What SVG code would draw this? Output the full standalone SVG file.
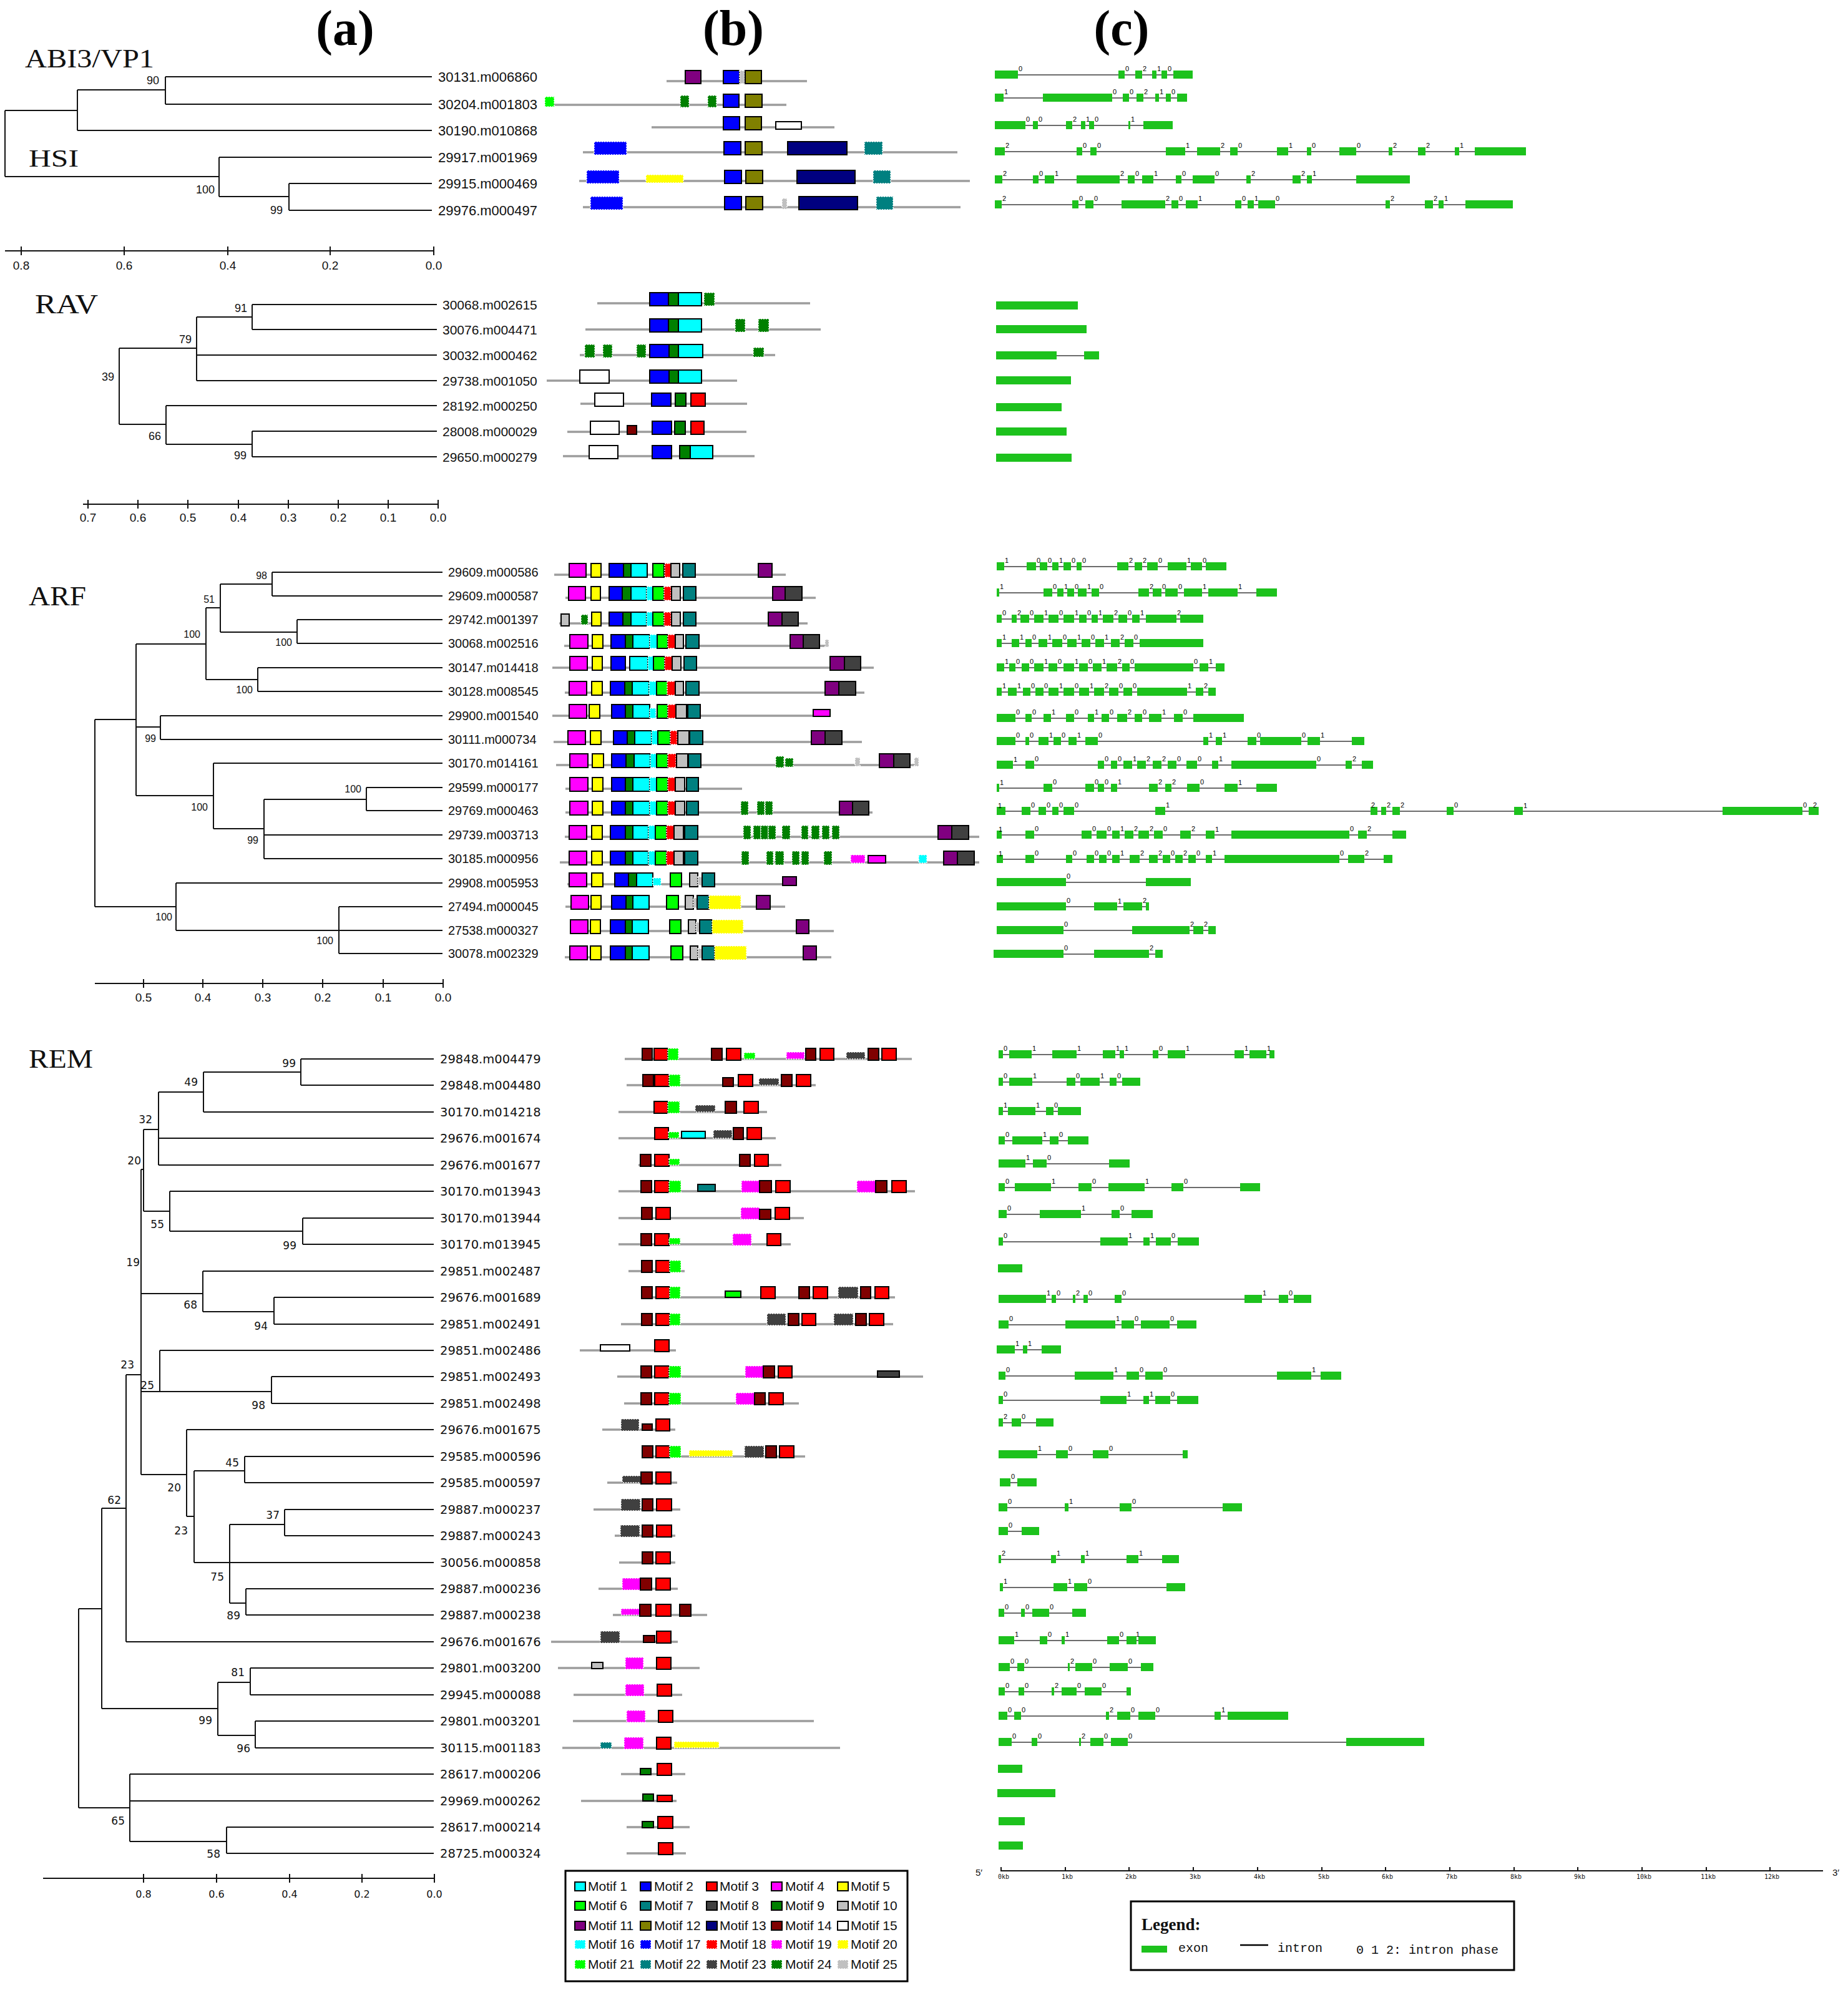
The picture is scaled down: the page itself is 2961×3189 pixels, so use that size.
<svg xmlns="http://www.w3.org/2000/svg" width="2961" height="3189" viewBox="0 0 2961 3189">
<style>
.t{font-family:"Liberation Sans",Arial,sans-serif;fill:#111}
.dj{font-family:"DejaVu Sans",Verdana,sans-serif;fill:#111}
.ser{font-family:"Liberation Serif","Times New Roman",serif;fill:#111}
.hd{font-family:"Liberation Serif","Times New Roman",serif;font-weight:bold;font-size:80px;text-anchor:middle;fill:#000}
.l22{font-size:22px}.l21{font-size:21px}.l20{font-size:20px}.l19{font-size:19.5px}
.bs{font-size:18px;text-anchor:end}.bs2{font-size:16px;text-anchor:end}.bs3{font-size:17px;text-anchor:end}
.sc{font-size:19px;text-anchor:middle}
.tr{fill:none;stroke:#111;stroke-width:2}
.ln{stroke:#9c9c9c;stroke-width:3.5}
.s{stroke:#000;stroke-width:2}
.d{stroke:#fff;stroke-width:1.5;stroke-dasharray:2 2}
.m1,.m16{fill:#00ffff}.m2,.m17{fill:#0000ff}.m3,.m18{fill:#ff0000}.m4,.m19{fill:#ff00ff}.m5,.m20{fill:#ffff00}
.m6,.m21{fill:#00ff00}.m7,.m22{fill:#008080}.m8,.m23{fill:#404040}.m9,.m24{fill:#008000}.m10,.m25{fill:#c0c0c0}
.m11{fill:#800080}.m12{fill:#808000}.m13{fill:#000080}.m14{fill:#800000}.m15{fill:#ffffff}
.ex{fill:#1dc21d}
.in{stroke:#3a3a3a;stroke-width:1.6}
.ph{font-family:"Liberation Sans",Arial,sans-serif;font-size:11px;fill:#000}
.ax{stroke:#111;stroke-width:2;fill:none}
.kb{font-family:"DejaVu Sans Mono","Liberation Mono",monospace;font-size:10px;text-anchor:middle;fill:#111}
.lg{font-family:"Liberation Sans",Arial,sans-serif;font-size:21px;fill:#111}
.mono{font-family:"Liberation Mono","Courier New",monospace;font-size:20px;fill:#111}
</style>
<rect width="2961" height="3189" fill="#fff"/>

<g id="headers">
<text class="hd" x="553" y="72">(a)</text>
<text class="hd" x="1175" y="72">(b)</text>
<text class="hd" x="1797" y="72">(c)</text>
</g>

<!-- ============ ABI3/VP1 + HSI ============ -->
<g id="tree-abi3">
<text class="ser" x="40" y="108" font-size="42" textLength="207" lengthAdjust="spacingAndGlyphs">ABI3/VP1</text>
<text class="ser" x="46" y="267" font-size="40" textLength="80" lengthAdjust="spacingAndGlyphs">HSI</text>
<g id="connectors-abi3">
<path class="tr" d="M8,177V283M8,177H124M124,144V209M124,144H265M265,123V167M265,123H692M265,167H692M124,209H692M8,283H351M351,252V315M351,252H692M351,315H463M463,294V337M463,294H692M463,337H692"/>
</g>
<g class="t bs"><text x="255" y="135">90</text><text x="344" y="310">100</text><text x="453" y="343">99</text></g>
<g class="t l22">
<text x="702" y="131">30131.m006860</text><text x="702" y="175">30204.m001803</text><text x="702" y="217">30190.m010868</text>
<text x="702" y="260">29917.m001969</text><text x="702" y="302">29915.m000469</text><text x="702" y="345">29976.m000497</text>
</g>
<g id="scale-abi3">
<path class="ax" d="M8,402H695M34,395V409M199,395V409M365,395V409M529,395V409M695,395V409"/>
<g class="t sc"><text x="34" y="432">0.8</text><text x="199" y="432">0.6</text><text x="365" y="432">0.4</text><text x="529" y="432">0.2</text><text x="695" y="432">0.0</text></g>
</g>
</g>

<g id="motifs-abi3">
<g id="b-30131" transform="translate(0,130)"><line class="ln" x1="1068" x2="1293"/><rect class="s m11" x="1098" y="-17" width="25" height="21"/><rect class="s m2" x="1159" y="-17" width="26" height="21"/><rect class="d m25" x="1185" y="-17" width="8" height="21"/><rect class="s m12" x="1194" y="-17" width="26" height="21"/></g>
<g id="b-30204" transform="translate(0,168)"><line class="ln" x1="881" x2="1260"/><rect class="d m21" x="873" y="-13" width="15" height="16"/><rect class="d m24" x="1090" y="-15" width="14" height="19"/><rect class="d m24" x="1134" y="-15" width="14" height="19"/><rect class="s m2" x="1159" y="-17" width="25" height="21"/><rect class="s m12" x="1194" y="-17" width="27" height="21"/></g>
<g id="b-30190" transform="translate(0,204)"><line class="ln" x1="1044" x2="1337"/><rect class="s m2" x="1159" y="-17" width="26" height="21"/><rect class="s m12" x="1194" y="-17" width="26" height="21"/><rect class="s m15" x="1243" y="-9" width="41" height="12"/></g>
<g id="b-29917" transform="translate(0,244)"><line class="ln" x1="934" x2="1534"/><rect class="d m17" x="952" y="-17" width="52" height="21"/><rect class="s m2" x="1160" y="-17" width="27" height="21"/><rect class="s m12" x="1194" y="-17" width="27" height="21"/><rect class="s m13" x="1262" y="-17" width="95" height="21"/><rect class="d m22" x="1385" y="-17" width="29" height="21"/></g>
<g id="b-29915" transform="translate(0,290)"><line class="ln" x1="928" x2="1554"/><rect class="d m17" x="940" y="-17" width="52" height="21"/><rect class="d m20" x="1035" y="-10" width="60" height="13"/><rect class="s m2" x="1161" y="-17" width="27" height="21"/><rect class="s m12" x="1195" y="-17" width="27" height="21"/><rect class="s m13" x="1277" y="-17" width="93" height="21"/><rect class="d m22" x="1399" y="-17" width="28" height="21"/></g>
<g id="b-29976" transform="translate(0,332)"><line class="ln" x1="934" x2="1539"/><rect class="d m17" x="946" y="-17" width="52" height="21"/><rect class="s m2" x="1161" y="-17" width="27" height="21"/><rect class="s m12" x="1195" y="-17" width="27" height="21"/><rect class="d m25" x="1253" y="-14" width="8" height="17"/><rect class="s m13" x="1280" y="-17" width="94" height="21"/><rect class="d m22" x="1404" y="-17" width="27" height="21"/></g>
</g>

<g id="genes-abi3">
<g id="c-30131" transform="translate(0,120)"><line class="in" x1="1594" x2="1911"/><path class="ex" d="M1594-7H1631v13H1594zM1792-7H1802v13H1792zM1819-7H1830v13H1819zM1846-7H1853v13H1846zM1861-7H1870v13H1861zM1880-7H1911v13H1880z"/><text class="ph" x="1632" y="-6">0</text><text class="ph" x="1803" y="-6">0</text><text class="ph" x="1831" y="-6">2</text><text class="ph" x="1854" y="-6">1</text><text class="ph" x="1871" y="-6">0</text></g>
<g id="c-30204" transform="translate(0,157)"><line class="in" x1="1594" x2="1902"/><path class="ex" d="M1594-7H1608v13H1594zM1671-7H1782v13H1671zM1799-7H1809v13H1799zM1821-7H1832v13H1821zM1851-7H1857v13H1851zM1868-7H1876v13H1868zM1886-7H1902v13H1886z"/><text class="ph" x="1609" y="-6">1</text><text class="ph" x="1783" y="-6">0</text><text class="ph" x="1810" y="-6">0</text><text class="ph" x="1833" y="-6">2</text><text class="ph" x="1858" y="-6">1</text><text class="ph" x="1877" y="-6">0</text></g>
<g id="c-30190" transform="translate(0,201)"><line class="in" x1="1594" x2="1879"/><path class="ex" d="M1594-7H1643v13H1594zM1655-7H1663v13H1655zM1708-7H1718v13H1708zM1732-7H1739v13H1732zM1745-7H1753v13H1745zM1808-7H1811v13H1808zM1832-7H1879v13H1832z"/><text class="ph" x="1644" y="-6">0</text><text class="ph" x="1664" y="-6">0</text><text class="ph" x="1719" y="-6">2</text><text class="ph" x="1740" y="-6">1</text><text class="ph" x="1754" y="-6">0</text><text class="ph" x="1812" y="-6">1</text></g>
<g id="c-29917" transform="translate(0,243)"><line class="in" x1="1594" x2="2445"/><path class="ex" d="M1594-7H1610v13H1594zM1725-7H1734v13H1725zM1747-7H1757v13H1747zM1868-7H1899v13H1868zM1918-7H1955v13H1918zM1971-7H1983v13H1971zM2046-7H2064v13H2046zM2094-7H2101v13H2094zM2146-7H2173v13H2146zM2225-7H2231v13H2225zM2272-7H2284v13H2272zM2331-7H2338v13H2331zM2363-7H2445v13H2363z"/><text class="ph" x="1611" y="-6">2</text><text class="ph" x="1735" y="-6">0</text><text class="ph" x="1758" y="-6">0</text><text class="ph" x="1900" y="-6">1</text><text class="ph" x="1956" y="-6">2</text><text class="ph" x="1984" y="-6">0</text><text class="ph" x="2065" y="-6">1</text><text class="ph" x="2102" y="-6">0</text><text class="ph" x="2174" y="-6">0</text><text class="ph" x="2232" y="-6">2</text><text class="ph" x="2285" y="-6">2</text><text class="ph" x="2339" y="-6">1</text></g>
<g id="c-29915" transform="translate(0,288)"><line class="in" x1="1594" x2="2259"/><path class="ex" d="M1594-7H1606v13H1594zM1655-7H1664v13H1655zM1674-7H1689v13H1674zM1725-7H1794v13H1725zM1807-7H1818v13H1807zM1830-7H1848v13H1830zM1884-7H1893v13H1884zM1911-7H1946v13H1911zM1997-7H2004v13H1997zM2071-7H2084v13H2071zM2094-7H2102v13H2094zM2173-7H2259v13H2173z"/><text class="ph" x="1607" y="-6">2</text><text class="ph" x="1665" y="-6">0</text><text class="ph" x="1690" y="-6">1</text><text class="ph" x="1795" y="-6">2</text><text class="ph" x="1819" y="-6">0</text><text class="ph" x="1849" y="-6">1</text><text class="ph" x="1894" y="-6">0</text><text class="ph" x="1947" y="-6">0</text><text class="ph" x="2005" y="-6">2</text><text class="ph" x="2085" y="-6">2</text><text class="ph" x="2103" y="-6">1</text></g>
<g id="c-29976" transform="translate(0,328)"><line class="in" x1="1594" x2="2424"/><path class="ex" d="M1594-7H1605v13H1594zM1718-7H1728v13H1718zM1739-7H1752v13H1739zM1797-7H1867v13H1797zM1877-7H1888v13H1877zM1900-7H1919v13H1900zM1979-7H1989v13H1979zM1999-7H2009v13H1999zM2016-7H2043v13H2016zM2220-7H2227v13H2220zM2283-7H2296v13H2283zM2305-7H2313v13H2305zM2348-7H2424v13H2348z"/><text class="ph" x="1606" y="-6">2</text><text class="ph" x="1729" y="-6">0</text><text class="ph" x="1753" y="-6">0</text><text class="ph" x="1868" y="-6">2</text><text class="ph" x="1889" y="-6">0</text><text class="ph" x="1920" y="-6">1</text><text class="ph" x="1990" y="-6">0</text><text class="ph" x="2010" y="-6">1</text><text class="ph" x="2044" y="-6">0</text><text class="ph" x="2228" y="-6">2</text><text class="ph" x="2297" y="-6">2</text><text class="ph" x="2314" y="-6">1</text></g>
</g>

<!-- ============ RAV ============ -->
<g id="tree-rav">
<text class="ser" x="56" y="502" font-size="44" textLength="101" lengthAdjust="spacingAndGlyphs">RAV</text>
<g id="connectors-rav">
<path class="tr" d="M191,558V680M191,558H315M315,508V610M315,508H404M404,488V528M404,488H700M404,528H700M315,569H700M315,610H700M191,680H266M266,650V712M266,650H700M266,712H404M404,691V732M404,691H700M404,732H700"/>
</g>
<g class="t bs"><text x="396" y="500">91</text><text x="307" y="550">79</text><text x="183" y="610">39</text><text x="258" y="705">66</text><text x="395" y="736">99</text></g>
<g class="t l21">
<text x="709" y="496">30068.m002615</text><text x="709" y="536">30076.m004471</text><text x="709" y="577">30032.m000462</text><text x="709" y="618">29738.m001050</text><text x="709" y="658">28192.m000250</text><text x="709" y="699">28008.m000029</text><text x="709" y="740">29650.m000279</text>
</g>
<g id="scale-rav">
<path class="ax" d="M133,808H702M141,801V815M221,801V815M301,801V815M382,801V815M462,801V815M542,801V815M622,801V815M702,801V815"/>
<g class="t sc"><text x="141" y="836">0.7</text><text x="221" y="836">0.6</text><text x="301" y="836">0.5</text><text x="382" y="836">0.4</text><text x="462" y="836">0.3</text><text x="542" y="836">0.2</text><text x="622" y="836">0.1</text><text x="702" y="836">0.0</text></g>
</g>
</g>

<g id="motifs-rav">
<g id="b-30068a" transform="translate(0,486)"><line class="ln" x1="957" x2="1298"/><rect class="s m2" x="1041" y="-17" width="30" height="21"/><rect class="s m9" x="1071" y="-17" width="16" height="21"/><rect class="s m1" x="1087" y="-17" width="37" height="21"/><rect class="d m24" x="1128" y="-17" width="17" height="21"/></g>
<g id="b-30076" transform="translate(0,528)"><line class="ln" x1="938" x2="1315"/><rect class="s m2" x="1041" y="-17" width="30" height="21"/><rect class="s m9" x="1071" y="-17" width="16" height="21"/><rect class="s m1" x="1087" y="-17" width="37" height="21"/><rect class="d m24" x="1178" y="-17" width="16" height="21"/><rect class="d m24" x="1215" y="-17" width="17" height="21"/></g>
<g id="b-30032" transform="translate(0,569)"><line class="ln" x1="929" x2="1242"/><rect class="d m24" x="937" y="-17" width="16" height="21"/><rect class="d m24" x="966" y="-17" width="15" height="21"/><rect class="d m24" x="1020" y="-17" width="15" height="21"/><rect class="s m2" x="1041" y="-17" width="31" height="21"/><rect class="s m9" x="1072" y="-17" width="15" height="21"/><rect class="s m1" x="1087" y="-17" width="39" height="21"/><rect class="d m24" x="1207" y="-12" width="17" height="15"/></g>
<g id="b-29738" transform="translate(0,610)"><line class="ln" x1="876" x2="1181"/><rect class="s m15" x="929" y="-17" width="47" height="21"/><rect class="s m2" x="1041" y="-17" width="31" height="21"/><rect class="s m9" x="1072" y="-17" width="15" height="21"/><rect class="s m1" x="1087" y="-17" width="37" height="21"/></g>
<g id="b-28192" transform="translate(0,647)"><line class="ln" x1="930" x2="1197"/><rect class="s m15" x="953" y="-17" width="46" height="21"/><rect class="s m2" x="1044" y="-17" width="31" height="21"/><rect class="s m9" x="1082" y="-17" width="17" height="21"/><rect class="s m3" x="1107" y="-17" width="23" height="21"/></g>
<g id="b-28008" transform="translate(0,692)"><line class="ln" x1="909" x2="1196"/><rect class="s m15" x="946" y="-17" width="46" height="21"/><rect class="s m14" x="1005" y="-10" width="15" height="14"/><rect class="s m2" x="1045" y="-17" width="31" height="21"/><rect class="s m9" x="1081" y="-17" width="17" height="21"/><rect class="s m3" x="1107" y="-17" width="21" height="21"/></g>
<g id="b-29650" transform="translate(0,731)"><line class="ln" x1="902" x2="1209"/><rect class="s m15" x="944" y="-17" width="46" height="21"/><rect class="s m2" x="1045" y="-17" width="31" height="21"/><rect class="s m9" x="1089" y="-17" width="17" height="21"/><rect class="s m1" x="1106" y="-17" width="36" height="21"/></g>
</g>

<g id="genes-rav">
<path class="ex" d="M1596,483H1727v13H1596zM1596,521H1741v13H1596zM1596,563H1693v13H1596zM1737,563H1761v13H1737zM1596,603H1716v13H1596zM1596,646H1701v13H1596zM1596,685H1709v13H1596zM1596,727H1717v13H1596z"/>
<line class="in" x1="1693" y1="570" x2="1737" y2="570"/>
</g>

<!-- ============ ARF ============ -->
<g id="tree-arf">
<text class="ser" x="46" y="970" font-size="44" textLength="92" lengthAdjust="spacingAndGlyphs">ARF</text>
<g id="connectors-arf">
<path class="tr" d="M152,1153V1453M152,1153H218M152,1453H282M218,1032V1275M218,1032H330M218,1165H257M218,1275H342M330,974V1089M330,974H353M330,1089H413M353,936V1013M353,936H436M353,1013H476M436,917V955M436,917H709M436,955H709M476,993V1031M476,993H709M476,1031H709M413,1070V1108M413,1070H709M413,1108H709M257,1147V1185M257,1147H709M257,1185H709M342,1223V1328M342,1223H709M342,1328H423M423,1281V1376M423,1281H587M423,1338H709M423,1376H709M587,1262V1299M587,1262H709M587,1299H709M282,1415V1491M282,1415H709M282,1491H709M543,1453V1528M543,1453H709M543,1528H709"/>
</g>
<g class="t bs2"><text x="428" y="928">98</text><text x="344" y="966">51</text><text x="321" y="1022">100</text><text x="468" y="1035">100</text><text x="405" y="1111">100</text><text x="250" y="1189">99</text><text x="579" y="1270">100</text><text x="333" y="1299">100</text><text x="414" y="1352">99</text><text x="276" y="1475">100</text><text x="534" y="1513">100</text></g>
<g class="t l20">
<text x="718" y="924">29609.m000586</text><text x="718" y="962">29609.m000587</text><text x="718" y="1000">29742.m001397</text><text x="718" y="1038">30068.m002516</text><text x="718" y="1077">30147.m014418</text><text x="718" y="1115">30128.m008545</text><text x="718" y="1154">29900.m001540</text><text x="718" y="1192">30111.m000734</text><text x="718" y="1230">30170.m014161</text><text x="718" y="1269">29599.m000177</text><text x="718" y="1306">29769.m000463</text><text x="718" y="1345">29739.m003713</text><text x="718" y="1383">30185.m000956</text><text x="718" y="1422">29908.m005953</text><text x="718" y="1460">27494.m000045</text><text x="718" y="1498">27538.m000327</text><text x="718" y="1535">30078.m002329</text>
</g>
<g id="scale-arf">
<path class="ax" d="M152,1576H710M230,1569V1583M325,1569V1583M421,1569V1583M517,1569V1583M614,1569V1583M710,1569V1583"/>
<g class="t sc"><text x="230" y="1605">0.5</text><text x="325" y="1605">0.4</text><text x="421" y="1605">0.3</text><text x="517" y="1605">0.2</text><text x="614" y="1605">0.1</text><text x="710" y="1605">0.0</text></g>
</g>
</g>

<g id="motifs-arf">
<g id="b-29609a" transform="translate(0,921)"><line class="ln" x1="888" x2="1259"/><rect class="s m4" x="912" y="-18" width="27" height="22"/><rect class="s m5" x="947" y="-18" width="16" height="22"/><rect class="s m2" x="976" y="-18" width="23" height="22"/><rect class="s m9" x="999" y="-18" width="12" height="22"/><rect class="s m1" x="1011" y="-18" width="26" height="22"/><rect class="s m6" x="1046" y="-18" width="18" height="22"/><rect class="d m18" x="1065" y="-18" width="10" height="22"/><rect class="s m10" x="1075" y="-18" width="14" height="22"/><rect class="s m7" x="1094" y="-18" width="20" height="22"/><rect class="s m11" x="1215" y="-18" width="22" height="22"/></g>
<g id="b-29609b" transform="translate(0,958)"><line class="ln" x1="906" x2="1307"/><rect class="s m4" x="911" y="-18" width="27" height="22"/><rect class="s m5" x="947" y="-18" width="15" height="22"/><rect class="s m2" x="976" y="-18" width="21" height="22"/><rect class="s m9" x="997" y="-18" width="14" height="22"/><rect class="s m1" x="1011" y="-18" width="25" height="22"/><rect class="d m16" x="1036" y="-18" width="10" height="22"/><rect class="s m6" x="1046" y="-18" width="18" height="22"/><rect class="d m18" x="1064" y="-18" width="11" height="22"/><rect class="s m10" x="1076" y="-18" width="14" height="22"/><rect class="s m7" x="1095" y="-18" width="20" height="22"/><rect class="s m11" x="1238" y="-18" width="20" height="22"/><rect class="s m8" x="1258" y="-18" width="27" height="22"/></g>
<g id="b-29742" transform="translate(0,999)"><line class="ln" x1="896" x2="1294"/><rect class="s m10" x="899" y="-15" width="13" height="19"/><rect class="d m24" x="931" y="-14" width="11" height="16"/><rect class="s m5" x="948" y="-18" width="15" height="22"/><rect class="s m2" x="976" y="-18" width="22" height="22"/><rect class="s m9" x="998" y="-18" width="13" height="22"/><rect class="s m1" x="1011" y="-18" width="25" height="22"/><rect class="d m16" x="1036" y="-18" width="10" height="22"/><rect class="s m6" x="1046" y="-18" width="18" height="22"/><rect class="d m18" x="1064" y="-18" width="11" height="22"/><rect class="s m10" x="1076" y="-18" width="14" height="22"/><rect class="s m7" x="1095" y="-18" width="20" height="22"/><rect class="s m11" x="1231" y="-18" width="22" height="22"/><rect class="s m8" x="1253" y="-18" width="26" height="22"/></g>
<g id="b-30068b" transform="translate(0,1035)"><line class="ln" x1="904" x2="1327"/><rect class="s m4" x="913" y="-18" width="29" height="22"/><rect class="s m5" x="949" y="-18" width="17" height="22"/><rect class="s m2" x="979" y="-18" width="23" height="22"/><rect class="s m9" x="1002" y="-18" width="12" height="22"/><rect class="s m1" x="1014" y="-18" width="27" height="22"/><rect class="d m16" x="1041" y="-18" width="12" height="22"/><rect class="s m6" x="1053" y="-18" width="17" height="22"/><rect class="d m18" x="1070" y="-18" width="12" height="22"/><rect class="s m10" x="1082" y="-18" width="13" height="22"/><rect class="s m7" x="1099" y="-18" width="21" height="22"/><rect class="s m11" x="1266" y="-18" width="21" height="22"/><rect class="s m8" x="1287" y="-18" width="26" height="22"/><rect class="d m25" x="1322" y="-10" width="6" height="12"/></g>
<g id="b-30147" transform="translate(0,1070)"><line class="ln" x1="885" x2="1400"/><rect class="s m4" x="913" y="-18" width="28" height="22"/><rect class="s m5" x="949" y="-18" width="16" height="22"/><rect class="s m2" x="979" y="-18" width="23" height="22"/><rect class="s m1" x="1009" y="-18" width="29" height="22"/><rect class="d m16" x="1038" y="-18" width="10" height="22"/><rect class="s m6" x="1047" y="-18" width="18" height="22"/><rect class="d m18" x="1065" y="-18" width="12" height="22"/><rect class="s m10" x="1077" y="-18" width="14" height="22"/><rect class="s m7" x="1096" y="-18" width="20" height="22"/><rect class="s m11" x="1330" y="-18" width="23" height="22"/><rect class="s m8" x="1353" y="-18" width="26" height="22"/></g>
<g id="b-30128" transform="translate(0,1110)"><line class="ln" x1="905" x2="1385"/><rect class="s m4" x="912" y="-18" width="28" height="22"/><rect class="s m5" x="948" y="-18" width="17" height="22"/><rect class="s m2" x="978" y="-18" width="23" height="22"/><rect class="s m9" x="1001" y="-18" width="12" height="22"/><rect class="s m1" x="1013" y="-18" width="27" height="22"/><rect class="d m16" x="1040" y="-18" width="12" height="22"/><rect class="s m6" x="1052" y="-18" width="18" height="22"/><rect class="d m18" x="1069" y="-18" width="13" height="22"/><rect class="s m10" x="1082" y="-18" width="13" height="22"/><rect class="s m7" x="1099" y="-18" width="21" height="22"/><rect class="s m11" x="1322" y="-18" width="22" height="22"/><rect class="s m8" x="1344" y="-18" width="27" height="22"/></g>
<g id="b-29900" transform="translate(0,1147)"><line class="ln" x1="885" x2="1302"/><rect class="s m4" x="912" y="-18" width="28" height="22"/><rect class="s m5" x="944" y="-18" width="17" height="22"/><rect class="s m2" x="980" y="-18" width="22" height="22"/><rect class="s m9" x="1002" y="-18" width="12" height="22"/><rect class="s m1" x="1014" y="-18" width="27" height="22"/><rect class="d m16" x="1041" y="-12" width="10" height="16"/><rect class="s m6" x="1053" y="-18" width="17" height="22"/><rect class="d m18" x="1070" y="-18" width="13" height="22"/><rect class="s m10" x="1083" y="-18" width="17" height="22"/><rect class="s m7" x="1102" y="-18" width="20" height="22"/><rect class="s m4" x="1303" y="-10" width="27" height="11"/></g>
<g id="b-30111" transform="translate(0,1189)"><line class="ln" x1="887" x2="1381"/><rect class="s m4" x="910" y="-18" width="28" height="22"/><rect class="s m5" x="946" y="-18" width="17" height="22"/><rect class="s m2" x="983" y="-18" width="22" height="22"/><rect class="s m9" x="1005" y="-18" width="12" height="22"/><rect class="s m1" x="1017" y="-18" width="27" height="22"/><rect class="d m16" x="1044" y="-18" width="10" height="22"/><rect class="s m6" x="1054" y="-18" width="20" height="22"/><rect class="d m18" x="1074" y="-18" width="11" height="22"/><rect class="s m10" x="1086" y="-18" width="18" height="22"/><rect class="s m7" x="1105" y="-18" width="21" height="22"/><rect class="s m11" x="1300" y="-18" width="22" height="22"/><rect class="s m8" x="1322" y="-18" width="27" height="22"/></g>
<g id="b-30170a" transform="translate(0,1226)"><line class="ln" x1="891" x2="1470"/><rect class="s m4" x="913" y="-18" width="29" height="22"/><rect class="s m5" x="949" y="-18" width="18" height="22"/><rect class="s m2" x="980" y="-18" width="23" height="22"/><rect class="s m9" x="1003" y="-18" width="13" height="22"/><rect class="s m1" x="1016" y="-18" width="26" height="22"/><rect class="d m16" x="1042" y="-18" width="10" height="22"/><rect class="s m6" x="1052" y="-18" width="18" height="22"/><rect class="d m18" x="1070" y="-18" width="13" height="22"/><rect class="s m10" x="1084" y="-18" width="18" height="22"/><rect class="s m7" x="1103" y="-18" width="20" height="22"/><rect class="d m24" x="1243" y="-14" width="13" height="18"/><rect class="d m24" x="1258" y="-11" width="13" height="14"/><rect class="d m25" x="1370" y="-12" width="8" height="14"/><rect class="s m11" x="1409" y="-18" width="23" height="22"/><rect class="s m8" x="1432" y="-18" width="26" height="22"/><rect class="d m25" x="1465" y="-12" width="7" height="14"/></g>
<g id="b-29599" transform="translate(0,1264)"><line class="ln" x1="906" x2="1189"/><rect class="s m4" x="913" y="-18" width="29" height="22"/><rect class="s m5" x="949" y="-18" width="17" height="22"/><rect class="s m2" x="980" y="-18" width="22" height="22"/><rect class="s m9" x="1002" y="-18" width="12" height="22"/><rect class="s m1" x="1014" y="-18" width="27" height="22"/><rect class="d m16" x="1041" y="-18" width="11" height="22"/><rect class="s m6" x="1052" y="-18" width="18" height="22"/><rect class="d m18" x="1070" y="-18" width="12" height="22"/><rect class="s m10" x="1082" y="-18" width="15" height="22"/><rect class="s m7" x="1100" y="-18" width="19" height="22"/></g>
<g id="b-29769" transform="translate(0,1302)"><line class="ln" x1="906" x2="1398"/><rect class="s m4" x="913" y="-18" width="29" height="22"/><rect class="s m5" x="949" y="-18" width="17" height="22"/><rect class="s m2" x="980" y="-18" width="22" height="22"/><rect class="s m9" x="1002" y="-18" width="12" height="22"/><rect class="s m1" x="1014" y="-18" width="27" height="22"/><rect class="d m16" x="1041" y="-18" width="11" height="22"/><rect class="s m6" x="1052" y="-18" width="18" height="22"/><rect class="d m18" x="1070" y="-18" width="12" height="22"/><rect class="s m10" x="1082" y="-18" width="15" height="22"/><rect class="s m7" x="1100" y="-18" width="19" height="22"/><rect class="d m24" x="1187" y="-18" width="12" height="22"/><rect class="d m24" x="1213" y="-18" width="12" height="22"/><rect class="d m24" x="1226" y="-18" width="12" height="22"/><rect class="s m11" x="1345" y="-18" width="21" height="22"/><rect class="s m8" x="1366" y="-18" width="26" height="22"/></g>
<g id="b-29739" transform="translate(0,1341)"><line class="ln" x1="905" x2="1569"/><rect class="s m4" x="912" y="-18" width="28" height="22"/><rect class="s m5" x="948" y="-18" width="17" height="22"/><rect class="s m2" x="978" y="-18" width="24" height="22"/><rect class="s m9" x="1002" y="-18" width="12" height="22"/><rect class="s m1" x="1014" y="-18" width="25" height="22"/><rect class="d m16" x="1039" y="-18" width="11" height="22"/><rect class="s m6" x="1050" y="-18" width="18" height="22"/><rect class="d m18" x="1068" y="-18" width="12" height="22"/><rect class="s m10" x="1080" y="-18" width="15" height="22"/><rect class="s m7" x="1097" y="-18" width="21" height="22"/><rect class="d m24" x="1191" y="-18" width="12" height="22"/><rect class="d m24" x="1207" y="-18" width="12" height="22"/><rect class="d m24" x="1219" y="-18" width="12" height="22"/><rect class="d m24" x="1231" y="-18" width="12" height="22"/><rect class="d m24" x="1253" y="-18" width="13" height="22"/><rect class="d m24" x="1284" y="-18" width="11" height="22"/><rect class="d m24" x="1300" y="-18" width="13" height="22"/><rect class="d m24" x="1317" y="-18" width="12" height="22"/><rect class="d m24" x="1333" y="-18" width="12" height="22"/><rect class="s m11" x="1503" y="-18" width="22" height="22"/><rect class="s m8" x="1525" y="-18" width="27" height="22"/></g>
<g id="b-30185" transform="translate(0,1382)"><line class="ln" x1="897" x2="1569"/><rect class="s m4" x="912" y="-18" width="28" height="22"/><rect class="s m5" x="948" y="-18" width="17" height="22"/><rect class="s m2" x="978" y="-18" width="24" height="22"/><rect class="s m9" x="1002" y="-18" width="12" height="22"/><rect class="s m1" x="1014" y="-18" width="25" height="22"/><rect class="d m16" x="1039" y="-18" width="11" height="22"/><rect class="s m6" x="1050" y="-18" width="18" height="22"/><rect class="d m18" x="1068" y="-18" width="12" height="22"/><rect class="s m10" x="1080" y="-18" width="15" height="22"/><rect class="s m7" x="1097" y="-18" width="21" height="22"/><rect class="d m24" x="1188" y="-18" width="12" height="22"/><rect class="d m24" x="1228" y="-18" width="11" height="22"/><rect class="d m24" x="1242" y="-18" width="14" height="22"/><rect class="d m24" x="1269" y="-18" width="12" height="22"/><rect class="d m24" x="1284" y="-18" width="12" height="22"/><rect class="d m24" x="1320" y="-18" width="13" height="22"/><rect class="d m19" x="1363" y="-12" width="23" height="13"/><rect class="s m4" x="1391" y="-11" width="28" height="12"/><rect class="d m16" x="1472" y="-12" width="13" height="13"/><rect class="s m11" x="1512" y="-18" width="22" height="22"/><rect class="s m8" x="1534" y="-18" width="27" height="22"/></g>
<g id="b-29908" transform="translate(0,1417)"><line class="ln" x1="909" x2="1276"/><rect class="s m4" x="912" y="-18" width="28" height="22"/><rect class="s m5" x="948" y="-18" width="18" height="22"/><rect class="s m2" x="985" y="-18" width="22" height="22"/><rect class="s m9" x="1007" y="-18" width="13" height="22"/><rect class="s m1" x="1020" y="-18" width="26" height="22"/><rect class="d m16" x="1046" y="-10" width="13" height="12"/><rect class="s m6" x="1074" y="-18" width="18" height="22"/><rect class="s m10" x="1105" y="-18" width="13" height="22"/><rect class="d m25" x="1118" y="-12" width="7" height="14"/><rect class="s m7" x="1125" y="-18" width="20" height="22"/><rect class="s m11" x="1254" y="-12" width="22" height="14"/></g>
<g id="b-27494" transform="translate(0,1453)"><line class="ln" x1="906" x2="1258"/><rect class="s m4" x="915" y="-18" width="28" height="22"/><rect class="s m5" x="947" y="-18" width="16" height="22"/><rect class="s m2" x="980" y="-18" width="23" height="22"/><rect class="s m9" x="1003" y="-18" width="11" height="22"/><rect class="s m1" x="1014" y="-18" width="26" height="22"/><rect class="s m6" x="1068" y="-18" width="19" height="22"/><rect class="s m10" x="1098" y="-18" width="13" height="22"/><rect class="d m25" x="1111" y="-14" width="6" height="16"/><rect class="s m7" x="1117" y="-18" width="19" height="22"/><rect class="d m20" x="1136" y="-18" width="51" height="22"/><rect class="s m11" x="1212" y="-18" width="22" height="22"/></g>
<g id="b-27538" transform="translate(0,1492)"><line class="ln" x1="914" x2="1336"/><rect class="s m4" x="914" y="-18" width="28" height="22"/><rect class="s m5" x="946" y="-18" width="16" height="22"/><rect class="s m2" x="978" y="-18" width="24" height="22"/><rect class="s m9" x="1002" y="-18" width="11" height="22"/><rect class="s m1" x="1013" y="-18" width="26" height="22"/><rect class="s m6" x="1073" y="-18" width="18" height="22"/><rect class="s m10" x="1103" y="-18" width="12" height="22"/><rect class="d m25" x="1115" y="-14" width="6" height="16"/><rect class="s m7" x="1121" y="-18" width="20" height="22"/><rect class="d m20" x="1141" y="-18" width="50" height="22"/><rect class="s m11" x="1276" y="-18" width="20" height="22"/></g>
<g id="b-30078" transform="translate(0,1534)"><line class="ln" x1="905" x2="1332"/><rect class="s m4" x="913" y="-18" width="28" height="22"/><rect class="s m5" x="946" y="-18" width="17" height="22"/><rect class="s m2" x="978" y="-18" width="24" height="22"/><rect class="s m9" x="1002" y="-18" width="11" height="22"/><rect class="s m1" x="1013" y="-18" width="27" height="22"/><rect class="s m6" x="1075" y="-18" width="19" height="22"/><rect class="s m10" x="1106" y="-18" width="12" height="22"/><rect class="d m25" x="1118" y="-14" width="7" height="16"/><rect class="s m7" x="1125" y="-18" width="20" height="22"/><rect class="d m20" x="1145" y="-18" width="51" height="22"/><rect class="s m11" x="1287" y="-18" width="21" height="22"/></g>
</g>

<g id="genes-arf">
<g transform="translate(0,908)"><line class="in" x1="1597" x2="1965"/><path class="ex" d="M1597-7H1609v13H1597zM1645-7H1660v13H1645zM1666-7H1678v13H1666zM1686-7H1696v13H1686zM1704-7H1716v13H1704zM1725-7H1733v13H1725zM1790-7H1808v13H1790zM1818-7H1830v13H1818zM1838-7H1855v13H1838zM1871-7H1901v13H1871zM1908-7H1926v13H1908zM1932-7H1965v13H1932z"/><text class="ph" x="1610" y="-6">1</text><text class="ph" x="1661" y="-6">0</text><text class="ph" x="1679" y="-6">0</text><text class="ph" x="1697" y="-6">1</text><text class="ph" x="1717" y="-6">0</text><text class="ph" x="1734" y="-6">0</text><text class="ph" x="1809" y="-6">2</text><text class="ph" x="1831" y="-6">2</text><text class="ph" x="1856" y="-6">0</text><text class="ph" x="1902" y="-6">1</text><text class="ph" x="1927" y="-6">0</text></g>
<g transform="translate(0,950)"><line class="in" x1="1597" x2="2046"/><path class="ex" d="M1597-7H1601v13H1597zM1672-7H1686v13H1672zM1694-7H1704v13H1694zM1710-7H1721v13H1710zM1727-7H1741v13H1727zM1749-7H1761v13H1749zM1824-7H1841v13H1824zM1847-7H1861v13H1847zM1867-7H1887v13H1867zM1897-7H1926v13H1897zM1936-7H1983v13H1936zM2013-7H2046v13H2013z"/><text class="ph" x="1602" y="-6">1</text><text class="ph" x="1687" y="-6">0</text><text class="ph" x="1705" y="-6">1</text><text class="ph" x="1722" y="-6">0</text><text class="ph" x="1742" y="-6">1</text><text class="ph" x="1762" y="-6">0</text><text class="ph" x="1842" y="-6">2</text><text class="ph" x="1862" y="-6">0</text><text class="ph" x="1888" y="-6">0</text><text class="ph" x="1927" y="-6">1</text><text class="ph" x="1984" y="-6">1</text></g>
<g transform="translate(0,992)"><line class="in" x1="1597" x2="1928"/><path class="ex" d="M1597-7H1605v13H1597zM1621-7H1629v13H1621zM1635-7H1649v13H1635zM1657-7H1672v13H1657zM1680-7H1696v13H1680zM1704-7H1721v13H1704zM1729-7H1741v13H1729zM1749-7H1759v13H1749zM1767-7H1784v13H1767zM1792-7H1806v13H1792zM1814-7H1826v13H1814zM1836-7H1885v13H1836zM1891-7H1928v13H1891z"/><text class="ph" x="1606" y="-6">0</text><text class="ph" x="1630" y="-6">2</text><text class="ph" x="1650" y="-6">0</text><text class="ph" x="1673" y="-6">1</text><text class="ph" x="1697" y="-6">0</text><text class="ph" x="1722" y="-6">1</text><text class="ph" x="1742" y="-6">0</text><text class="ph" x="1760" y="-6">1</text><text class="ph" x="1785" y="-6">2</text><text class="ph" x="1807" y="-6">0</text><text class="ph" x="1827" y="-6">1</text><text class="ph" x="1886" y="-6">2</text></g>
<g transform="translate(0,1031)"><line class="in" x1="1597" x2="1928"/><path class="ex" d="M1597-7H1605v13H1597zM1621-7H1633v13H1621zM1643-7H1653v13H1643zM1664-7H1678v13H1664zM1686-7H1702v13H1686zM1710-7H1725v13H1710zM1733-7H1747v13H1733zM1755-7H1769v13H1755zM1780-7H1794v13H1780zM1802-7H1816v13H1802zM1826-7H1928v13H1826z"/><text class="ph" x="1606" y="-6">1</text><text class="ph" x="1634" y="-6">1</text><text class="ph" x="1654" y="-6">0</text><text class="ph" x="1679" y="-6">1</text><text class="ph" x="1703" y="-6">0</text><text class="ph" x="1726" y="-6">1</text><text class="ph" x="1748" y="-6">0</text><text class="ph" x="1770" y="-6">1</text><text class="ph" x="1795" y="-6">2</text><text class="ph" x="1817" y="-6">0</text></g>
<g transform="translate(0,1070)"><line class="in" x1="1597" x2="1962"/><path class="ex" d="M1597-7H1609v13H1597zM1617-7H1627v13H1617zM1637-7H1649v13H1637zM1657-7H1672v13H1657zM1680-7H1694v13H1680zM1704-7H1721v13H1704zM1729-7H1743v13H1729zM1751-7H1765v13H1751zM1773-7H1790v13H1773zM1798-7H1810v13H1798zM1818-7H1912v13H1818zM1922-7H1936v13H1922zM1948-7H1962v13H1948z"/><text class="ph" x="1610" y="-6">1</text><text class="ph" x="1628" y="-6">0</text><text class="ph" x="1650" y="-6">0</text><text class="ph" x="1673" y="-6">1</text><text class="ph" x="1695" y="-6">0</text><text class="ph" x="1722" y="-6">1</text><text class="ph" x="1744" y="-6">0</text><text class="ph" x="1766" y="-6">1</text><text class="ph" x="1791" y="-6">2</text><text class="ph" x="1811" y="-6">0</text><text class="ph" x="1913" y="-6">0</text><text class="ph" x="1937" y="-6">1</text></g>
<g transform="translate(0,1109)"><line class="in" x1="1597" x2="1948"/><path class="ex" d="M1597-7H1605v13H1597zM1615-7H1629v13H1615zM1639-7H1651v13H1639zM1659-7H1672v13H1659zM1680-7H1696v13H1680zM1704-7H1721v13H1704zM1729-7H1745v13H1729zM1753-7H1769v13H1753zM1777-7H1792v13H1777zM1800-7H1814v13H1800zM1822-7H1902v13H1822zM1916-7H1928v13H1916zM1936-7H1948v13H1936z"/><text class="ph" x="1606" y="-6">1</text><text class="ph" x="1630" y="-6">1</text><text class="ph" x="1652" y="-6">0</text><text class="ph" x="1673" y="-6">0</text><text class="ph" x="1697" y="-6">1</text><text class="ph" x="1722" y="-6">0</text><text class="ph" x="1746" y="-6">1</text><text class="ph" x="1770" y="-6">2</text><text class="ph" x="1793" y="-6">0</text><text class="ph" x="1815" y="-6">0</text><text class="ph" x="1903" y="-6">1</text><text class="ph" x="1929" y="-6">2</text></g>
<g transform="translate(0,1151)"><line class="in" x1="1597" x2="1993"/><path class="ex" d="M1597-7H1627v13H1597zM1643-7H1653v13H1643zM1672-7H1684v13H1672zM1708-7H1721v13H1708zM1743-7H1753v13H1743zM1765-7H1777v13H1765zM1790-7H1806v13H1790zM1818-7H1830v13H1818zM1841-7H1861v13H1841zM1881-7H1895v13H1881zM1912-7H1993v13H1912z"/><text class="ph" x="1628" y="-6">0</text><text class="ph" x="1654" y="-6">0</text><text class="ph" x="1685" y="-6">1</text><text class="ph" x="1722" y="-6">0</text><text class="ph" x="1754" y="-6">1</text><text class="ph" x="1778" y="-6">0</text><text class="ph" x="1807" y="-6">2</text><text class="ph" x="1831" y="-6">0</text><text class="ph" x="1862" y="-6">1</text><text class="ph" x="1896" y="-6">0</text></g>
<g transform="translate(0,1188)"><line class="in" x1="1597" x2="2186"/><path class="ex" d="M1597-7H1627v13H1597zM1643-7H1649v13H1643zM1664-7H1680v13H1664zM1688-7H1700v13H1688zM1712-7H1725v13H1712zM1739-7H1759v13H1739zM1928-7H1936v13H1928zM1948-7H1958v13H1948zM1999-7H2013v13H1999zM2019-7H2085v13H2019zM2095-7H2115v13H2095zM2166-7H2186v13H2166z"/><text class="ph" x="1628" y="-6">0</text><text class="ph" x="1650" y="-6">0</text><text class="ph" x="1681" y="-6">1</text><text class="ph" x="1701" y="-6">0</text><text class="ph" x="1726" y="-6">1</text><text class="ph" x="1760" y="-6">0</text><text class="ph" x="1937" y="-6">1</text><text class="ph" x="1959" y="-6">1</text><text class="ph" x="2014" y="-6">0</text><text class="ph" x="2086" y="-6">0</text><text class="ph" x="2116" y="-6">1</text></g>
<g transform="translate(0,1226)"><line class="in" x1="1597" x2="2200"/><path class="ex" d="M1597-7H1623v13H1597zM1643-7H1657v13H1643zM1759-7H1769v13H1759zM1780-7H1790v13H1780zM1800-7H1814v13H1800zM1822-7H1836v13H1822zM1847-7H1861v13H1847zM1871-7H1885v13H1871zM1901-7H1918v13H1901zM1942-7H1952v13H1942zM1973-7H2109v13H1973zM2156-7H2166v13H2156zM2182-7H2200v13H2182z"/><text class="ph" x="1624" y="-5" font-size="14">1</text><text class="ph" x="1658" y="-6">0</text><text class="ph" x="1770" y="-6">0</text><text class="ph" x="1791" y="-6">0</text><text class="ph" x="1815" y="-6">1</text><text class="ph" x="1837" y="-6">2</text><text class="ph" x="1862" y="-6">2</text><text class="ph" x="1886" y="-6">0</text><text class="ph" x="1919" y="-6">0</text><text class="ph" x="1953" y="-6">1</text><text class="ph" x="2110" y="-6">0</text><text class="ph" x="2167" y="-6">2</text></g>
<g transform="translate(0,1263)"><line class="in" x1="1597" x2="2046"/><path class="ex" d="M1597-7H1601v13H1597zM1672-7H1686v13H1672zM1739-7H1753v13H1739zM1759-7H1769v13H1759zM1780-7H1790v13H1780zM1841-7H1855v13H1841zM1867-7H1877v13H1867zM1902-7H1922v13H1902zM1962-7H1983v13H1962zM2013-7H2046v13H2013z"/><text class="ph" x="1602" y="-5" font-size="14">1</text><text class="ph" x="1687" y="-6">0</text><text class="ph" x="1754" y="-6">0</text><text class="ph" x="1770" y="-6">0</text><text class="ph" x="1791" y="-6">1</text><text class="ph" x="1856" y="-6">2</text><text class="ph" x="1878" y="-6">2</text><text class="ph" x="1923" y="-6">0</text><text class="ph" x="1984" y="-5" font-size="14">1</text></g>
<g transform="translate(0,1300)"><line class="in" x1="1597" x2="2914"/><path class="ex" d="M1597-7H1611v13H1597zM1637-7H1651v13H1637zM1664-7H1676v13H1664zM1686-7H1696v13H1686zM1704-7H1721v13H1704zM1851-7H1867v13H1851zM2196-7H2207v13H2196zM2213-7H2221v13H2213zM2231-7H2243v13H2231zM2318-7H2329v13H2318zM2426-7H2440v13H2426zM2760-7H2888v13H2760zM2898-7H2914v13H2898z"/><text class="ph" x="1599" y="-5" font-size="14">1</text><text class="ph" x="1652" y="-6">0</text><text class="ph" x="1677" y="-6">0</text><text class="ph" x="1697" y="-6">0</text><text class="ph" x="1722" y="-6">0</text><text class="ph" x="1868" y="-6">1</text><text class="ph" x="2197" y="-6">2</text><text class="ph" x="2222" y="-6">2</text><text class="ph" x="2244" y="-6">2</text><text class="ph" x="2330" y="-6">0</text><text class="ph" x="2441" y="-5" font-size="14">1</text><text class="ph" x="2889" y="-6">0</text><text class="ph" x="2905" y="-6">2</text></g>
<g transform="translate(0,1338)"><line class="in" x1="1597" x2="2253"/><path class="ex" d="M1597-7H1605v13H1597zM1643-7H1657v13H1643zM1733-7H1749v13H1733zM1757-7H1773v13H1757zM1782-7H1794v13H1782zM1802-7H1816v13H1802zM1824-7H1841v13H1824zM1849-7H1863v13H1849zM1891-7H1908v13H1891zM1932-7H1946v13H1932zM1973-7H2162v13H1973zM2176-7H2190v13H2176zM2231-7H2253v13H2231z"/><text class="ph" x="1600" y="-5" font-size="14">1</text><text class="ph" x="1658" y="-6">0</text><text class="ph" x="1750" y="-6">0</text><text class="ph" x="1774" y="-6">0</text><text class="ph" x="1795" y="-6">1</text><text class="ph" x="1817" y="-6">2</text><text class="ph" x="1842" y="-6">2</text><text class="ph" x="1864" y="-6">0</text><text class="ph" x="1909" y="-6">2</text><text class="ph" x="1947" y="-5" font-size="14">1</text><text class="ph" x="2163" y="-6">0</text><text class="ph" x="2191" y="-6">2</text></g>
<g transform="translate(0,1377)"><line class="in" x1="1597" x2="2231"/><path class="ex" d="M1597-7H1607v13H1597zM1643-7H1657v13H1643zM1708-7H1718v13H1708zM1741-7H1753v13H1741zM1761-7H1773v13H1761zM1782-7H1794v13H1782zM1810-7H1826v13H1810zM1841-7H1855v13H1841zM1863-7H1875v13H1863zM1883-7H1895v13H1883zM1904-7H1916v13H1904zM1932-7H1942v13H1932zM1962-7H2146v13H1962zM2160-7H2186v13H2160zM2217-7H2231v13H2217z"/><text class="ph" x="1600" y="-5" font-size="14">1</text><text class="ph" x="1658" y="-6">0</text><text class="ph" x="1719" y="-6">0</text><text class="ph" x="1754" y="-6">0</text><text class="ph" x="1774" y="-6">0</text><text class="ph" x="1795" y="-6">1</text><text class="ph" x="1827" y="-6">2</text><text class="ph" x="1856" y="-6">2</text><text class="ph" x="1876" y="-6">0</text><text class="ph" x="1896" y="-6">2</text><text class="ph" x="1917" y="-6">0</text><text class="ph" x="1943" y="-6">1</text><text class="ph" x="2147" y="-6">0</text><text class="ph" x="2187" y="-6">2</text></g>
<g transform="translate(0,1414)"><line class="in" x1="1708" x2="1836"/><path class="ex" d="M1597-7H1708v13H1597zM1836-7H1908v13H1836z"/><text class="ph" x="1709" y="-6">0</text></g>
<g transform="translate(0,1453)"><line class="in" x1="1708" x2="1841"/><path class="ex" d="M1597-7H1708v13H1597zM1753-7H1790v13H1753zM1800-7H1830v13H1800zM1836-7H1841v13H1836z"/><text class="ph" x="1709" y="-6">0</text><text class="ph" x="1791" y="-5" font-size="14">1</text><text class="ph" x="1831" y="-6">2</text></g>
<g transform="translate(0,1491)"><line class="in" x1="1704" x2="1948"/><path class="ex" d="M1597-7H1704v13H1597zM1814-7H1906v13H1814zM1912-7H1928v13H1912zM1936-7H1948v13H1936z"/><text class="ph" x="1705" y="-6">0</text><text class="ph" x="1907" y="-6">2</text><text class="ph" x="1929" y="-6">2</text></g>
<g transform="translate(0,1529)"><line class="in" x1="1704" x2="1863"/><path class="ex" d="M1592-7H1704v13H1592zM1753-7H1841v13H1753zM1851-7H1863v13H1851z"/><text class="ph" x="1705" y="-6">0</text><text class="ph" x="1842" y="-6">2</text></g>
</g>

<!-- ============ REM ============ -->
<g id="tree-rem">
<text class="ser" x="46" y="1711" font-size="42" textLength="103" lengthAdjust="spacingAndGlyphs">REM</text>
<g id="connectors-rem">
<path class="tr" d="M482,1697V1739M482,1697H695M482,1739H695M326,1718V1782M326,1718H482M326,1782H695M254,1750V1867M254,1750H326M254,1824H695M254,1867H695M230,1810V1941M230,1810H254M230,1941H272M272,1909V1973M272,1909H695M272,1973H485M485,1952V1994M485,1952H695M485,1994H695M226,1874V2363M226,1874H230M226,2073H325M226,2230H256M226,2363H299M325,2037V2102M325,2037H695M325,2102H439M439,2079V2122M439,2079H695M439,2122H695M256,2164V2230M256,2164H695M256,2230H435M435,2206V2249M435,2206H695M435,2249H695M299,2291V2430M299,2291H695M299,2430H311M311,2357V2504M311,2357H392M311,2504H695M392,2334V2376M392,2334H695M392,2376H695M368,2443V2569M368,2443H456M368,2569H394M456,2419V2461M456,2419H695M456,2461H695M394,2546V2588M394,2546H695M394,2588H695M202,2203V2631M202,2203H226M202,2631H695M163,2417V2738M163,2417H202M163,2738H349M349,2696V2781M349,2696H401M349,2781H409M401,2673V2716M401,2673H695M401,2716H695M409,2758V2801M409,2758H695M409,2801H695M126,2578V2897M126,2578H163M126,2897H208M208,2843V2951M208,2843H695M208,2886H695M208,2951H363M363,2928V2970M363,2928H695M363,2970H695"/>
</g>
<g class="dj bs3">
<text x="474" y="1710">99</text><text x="317" y="1740">49</text><text x="244" y="1800">32</text><text x="226" y="1866">20</text><text x="263" y="1968">55</text><text x="475" y="2002">99</text><text x="224" y="2029">19</text><text x="316" y="2097">68</text><text x="429" y="2131">94</text><text x="215" y="2193">23</text><text x="247" y="2226">25</text><text x="425" y="2258">98</text><text x="383" y="2350">45</text><text x="290" y="2390">20</text><text x="194" y="2410">62</text><text x="448" y="2434">37</text><text x="301" y="2459">23</text><text x="359" y="2533">75</text><text x="385" y="2595">89</text><text x="392" y="2686">81</text><text x="340" y="2763">99</text><text x="401" y="2808">96</text><text x="200" y="2924">65</text><text x="353" y="2977">58</text>
</g>
<g class="dj l19">
<text x="705" y="1704">29848.m004479</text><text x="705" y="1746">29848.m004480</text><text x="705" y="1789">30170.m014218</text><text x="705" y="1831">29676.m001674</text><text x="705" y="1874">29676.m001677</text><text x="705" y="1916">30170.m013943</text><text x="705" y="1959">30170.m013944</text><text x="705" y="2001">30170.m013945</text><text x="705" y="2044">29851.m002487</text><text x="705" y="2086">29676.m001689</text><text x="705" y="2129">29851.m002491</text><text x="705" y="2171">29851.m002486</text><text x="705" y="2213">29851.m002493</text><text x="705" y="2256">29851.m002498</text><text x="705" y="2298">29676.m001675</text><text x="705" y="2341">29585.m000596</text><text x="705" y="2383">29585.m000597</text><text x="705" y="2426">29887.m000237</text><text x="705" y="2468">29887.m000243</text><text x="705" y="2511">30056.m000858</text><text x="705" y="2553">29887.m000236</text><text x="705" y="2595">29887.m000238</text><text x="705" y="2638">29676.m001676</text><text x="705" y="2680">29801.m003200</text><text x="705" y="2723">29945.m000088</text><text x="705" y="2765">29801.m003201</text><text x="705" y="2808">30115.m001183</text><text x="705" y="2850">28617.m000206</text><text x="705" y="2893">29969.m000262</text><text x="705" y="2935">28617.m000214</text><text x="705" y="2977">28725.m000324</text>
</g>
<g id="scale-rem">
<path class="ax" d="M69,3010H696M230,3003V3017M347,3003V3017M464,3003V3017M580,3003V3017M696,3003V3017"/>
<g class="dj" font-size="16" text-anchor="middle"><text x="230" y="3041">0.8</text><text x="347" y="3041">0.6</text><text x="464" y="3041">0.4</text><text x="580" y="3041">0.2</text><text x="696" y="3041">0.0</text></g>
</g>
</g>

<g id="motifs-rem">
<g transform="translate(0,1697)"><line class="ln" x1="1001" x2="1461"/><rect class="s m14" x="1029" y="-17" width="16" height="19"/><rect class="s m3" x="1048" y="-17" width="22" height="19"/><rect class="d m21" x="1070" y="-17" width="17" height="19"/><rect class="s m14" x="1140" y="-17" width="17" height="19"/><rect class="s m3" x="1164" y="-17" width="23" height="19"/><rect class="d m21" x="1192" y="-10" width="18" height="10"/><rect class="d m19" x="1260" y="-11" width="29" height="11"/><rect class="s m14" x="1291" y="-17" width="16" height="19"/><rect class="s m3" x="1314" y="-17" width="22" height="19"/><rect class="d m23" x="1356" y="-11" width="30" height="11"/><rect class="s m14" x="1391" y="-17" width="17" height="19"/><rect class="s m3" x="1413" y="-17" width="23" height="19"/></g>
<g transform="translate(0,1739)"><line class="ln" x1="1004" x2="1307"/><rect class="s m14" x="1030" y="-17" width="17" height="19"/><rect class="s m3" x="1049" y="-17" width="23" height="19"/><rect class="d m21" x="1072" y="-17" width="18" height="19"/><rect class="s m14" x="1158" y="-12" width="17" height="14"/><rect class="s m3" x="1183" y="-17" width="23" height="19"/><rect class="d m23" x="1216" y="-11" width="32" height="11"/><rect class="s m14" x="1252" y="-17" width="17" height="19"/><rect class="s m3" x="1276" y="-17" width="23" height="19"/></g>
<g transform="translate(0,1782)"><line class="ln" x1="991" x2="1229"/><rect class="s m3" x="1048" y="-17" width="22" height="19"/><rect class="d m21" x="1070" y="-17" width="19" height="19"/><rect class="d m23" x="1114" y="-11" width="32" height="11"/><rect class="s m14" x="1162" y="-17" width="18" height="19"/><rect class="s m3" x="1192" y="-17" width="23" height="19"/></g>
<g transform="translate(0,1824)"><line class="ln" x1="991" x2="1243"/><rect class="s m3" x="1049" y="-17" width="22" height="19"/><rect class="d m21" x="1071" y="-10" width="17" height="10"/><rect class="s m1" x="1092" y="-11" width="38" height="11"/><rect class="d m23" x="1143" y="-13" width="30" height="13"/><rect class="s m14" x="1175" y="-17" width="16" height="19"/><rect class="s m3" x="1197" y="-17" width="23" height="19"/></g>
<g transform="translate(0,1867)"><line class="ln" x1="1023" x2="1252"/><rect class="s m14" x="1026" y="-17" width="17" height="19"/><rect class="s m3" x="1049" y="-17" width="23" height="19"/><rect class="d m21" x="1072" y="-10" width="17" height="10"/><rect class="s m14" x="1185" y="-17" width="17" height="19"/><rect class="s m3" x="1209" y="-17" width="22" height="19"/></g>
<g transform="translate(0,1909)"><line class="ln" x1="991" x2="1466"/><rect class="s m14" x="1027" y="-17" width="17" height="19"/><rect class="s m3" x="1049" y="-17" width="23" height="19"/><rect class="d m21" x="1072" y="-17" width="19" height="19"/><rect class="s m7" x="1118" y="-11" width="28" height="11"/><rect class="d m19" x="1188" y="-17" width="29" height="19"/><rect class="s m14" x="1217" y="-17" width="19" height="19"/><rect class="s m3" x="1243" y="-17" width="23" height="19"/><rect class="d m19" x="1373" y="-17" width="30" height="19"/><rect class="s m14" x="1403" y="-17" width="18" height="19"/><rect class="s m3" x="1429" y="-17" width="23" height="19"/></g>
<g transform="translate(0,1952)"><line class="ln" x1="991" x2="1288"/><rect class="s m14" x="1028" y="-17" width="17" height="19"/><rect class="s m3" x="1051" y="-17" width="23" height="19"/><rect class="d m19" x="1187" y="-17" width="30" height="19"/><rect class="s m14" x="1217" y="-14" width="18" height="16"/><rect class="s m3" x="1242" y="-17" width="23" height="19"/></g>
<g transform="translate(0,1994)"><line class="ln" x1="991" x2="1267"/><rect class="s m14" x="1027" y="-17" width="17" height="19"/><rect class="s m3" x="1049" y="-17" width="23" height="19"/><rect class="d m21" x="1072" y="-10" width="18" height="10"/><rect class="d m19" x="1174" y="-17" width="30" height="19"/><rect class="s m3" x="1229" y="-17" width="22" height="19"/></g>
<g transform="translate(0,2037)"><line class="ln" x1="1007" x2="1097"/><rect class="s m14" x="1028" y="-17" width="17" height="19"/><rect class="s m3" x="1051" y="-17" width="22" height="19"/><rect class="d m21" x="1073" y="-17" width="18" height="19"/></g>
<g transform="translate(0,2079)"><line class="ln" x1="1027" x2="1434"/><rect class="s m14" x="1028" y="-17" width="17" height="19"/><rect class="s m3" x="1051" y="-17" width="22" height="19"/><rect class="d m21" x="1073" y="-17" width="17" height="19"/><rect class="s m6" x="1162" y="-10" width="25" height="10"/><rect class="s m3" x="1219" y="-17" width="23" height="19"/><rect class="s m14" x="1280" y="-17" width="17" height="19"/><rect class="s m3" x="1303" y="-17" width="23" height="19"/><rect class="d m23" x="1343" y="-17" width="32" height="19"/><rect class="s m14" x="1379" y="-17" width="16" height="19"/><rect class="s m3" x="1402" y="-17" width="22" height="19"/></g>
<g transform="translate(0,2122)"><line class="ln" x1="995" x2="1431"/><rect class="s m14" x="1028" y="-17" width="17" height="19"/><rect class="s m3" x="1051" y="-17" width="22" height="19"/><rect class="d m21" x="1073" y="-17" width="17" height="19"/><rect class="d m23" x="1229" y="-17" width="30" height="19"/><rect class="s m14" x="1263" y="-17" width="17" height="19"/><rect class="s m3" x="1285" y="-17" width="22" height="19"/><rect class="d m23" x="1336" y="-17" width="31" height="19"/><rect class="s m14" x="1371" y="-17" width="17" height="19"/><rect class="s m3" x="1393" y="-17" width="23" height="19"/></g>
<g transform="translate(0,2164)"><line class="ln" x1="929" x2="1083"/><rect class="s m15" x="962" y="-9" width="47" height="10"/><rect class="s m3" x="1049" y="-17" width="23" height="19"/></g>
<g transform="translate(0,2206)"><line class="ln" x1="989" x2="1479"/><rect class="s m14" x="1027" y="-17" width="17" height="19"/><rect class="s m3" x="1049" y="-17" width="23" height="19"/><rect class="d m21" x="1072" y="-17" width="19" height="19"/><rect class="d m19" x="1194" y="-17" width="29" height="19"/><rect class="s m14" x="1223" y="-17" width="18" height="19"/><rect class="s m3" x="1247" y="-17" width="22" height="19"/><rect class="s m8" x="1406" y="-9" width="35" height="10"/></g>
<g transform="translate(0,2249)"><line class="ln" x1="1000" x2="1280"/><rect class="s m14" x="1027" y="-17" width="17" height="19"/><rect class="s m3" x="1049" y="-17" width="23" height="19"/><rect class="d m21" x="1072" y="-17" width="19" height="19"/><rect class="d m19" x="1179" y="-17" width="30" height="19"/><rect class="s m14" x="1209" y="-17" width="17" height="19"/><rect class="s m3" x="1232" y="-17" width="23" height="19"/></g>
<g transform="translate(0,2291)"><line class="ln" x1="965" x2="1082"/><rect class="d m23" x="995" y="-17" width="29" height="19"/><rect class="s m14" x="1029" y="-9" width="16" height="10"/><rect class="s m3" x="1051" y="-17" width="22" height="19"/></g>
<g transform="translate(0,2334)"><line class="ln" x1="1029" x2="1290"/><rect class="s m14" x="1029" y="-17" width="17" height="19"/><rect class="s m3" x="1051" y="-17" width="22" height="19"/><rect class="d m21" x="1073" y="-17" width="18" height="19"/><rect class="d m20" x="1104" y="-10" width="70" height="10"/><rect class="d m23" x="1193" y="-17" width="31" height="19"/><rect class="s m14" x="1227" y="-17" width="17" height="19"/><rect class="s m3" x="1249" y="-17" width="23" height="19"/></g>
<g transform="translate(0,2376)"><line class="ln" x1="973" x2="1085"/><rect class="d m23" x="997" y="-11" width="30" height="11"/><rect class="s m14" x="1027" y="-17" width="18" height="19"/><rect class="s m3" x="1051" y="-17" width="24" height="19"/></g>
<g transform="translate(0,2419)"><line class="ln" x1="951" x2="1090"/><rect class="d m23" x="995" y="-17" width="31" height="19"/><rect class="s m14" x="1029" y="-17" width="17" height="19"/><rect class="s m3" x="1052" y="-17" width="24" height="19"/></g>
<g transform="translate(0,2461)"><line class="ln" x1="985" x2="1082"/><rect class="d m23" x="994" y="-17" width="31" height="19"/><rect class="s m14" x="1029" y="-17" width="17" height="19"/><rect class="s m3" x="1052" y="-17" width="24" height="19"/></g>
<g transform="translate(0,2504)"><line class="ln" x1="992" x2="1082"/><rect class="s m14" x="1029" y="-17" width="17" height="19"/><rect class="s m3" x="1051" y="-17" width="23" height="19"/></g>
<g transform="translate(0,2546)"><line class="ln" x1="959" x2="1086"/><rect class="d m19" x="997" y="-17" width="29" height="19"/><rect class="s m14" x="1026" y="-17" width="18" height="19"/><rect class="s m3" x="1051" y="-17" width="23" height="19"/></g>
<g transform="translate(0,2588)"><line class="ln" x1="982" x2="1133"/><rect class="d m19" x="995" y="-10" width="30" height="10"/><rect class="s m14" x="1025" y="-17" width="18" height="19"/><rect class="s m3" x="1051" y="-17" width="24" height="19"/><rect class="s m14" x="1089" y="-17" width="18" height="19"/></g>
<g transform="translate(0,2631)"><line class="ln" x1="883" x2="1086"/><rect class="d m23" x="962" y="-17" width="31" height="19"/><rect class="s m14" x="1031" y="-10" width="18" height="11"/><rect class="s m3" x="1052" y="-17" width="23" height="19"/></g>
<g transform="translate(0,2673)"><line class="ln" x1="894" x2="1121"/><rect class="s m10" x="948" y="-9" width="18" height="10"/><rect class="d m19" x="1002" y="-17" width="29" height="19"/><rect class="s m3" x="1052" y="-17" width="23" height="19"/></g>
<g transform="translate(0,2716)"><line class="ln" x1="919" x2="1093"/><rect class="d m19" x="1002" y="-17" width="30" height="19"/><rect class="s m3" x="1053" y="-17" width="23" height="19"/></g>
<g transform="translate(0,2758)"><line class="ln" x1="918" x2="1304"/><rect class="d m19" x="1004" y="-17" width="30" height="19"/><rect class="s m3" x="1055" y="-17" width="23" height="19"/></g>
<g transform="translate(0,2801)"><line class="ln" x1="901" x2="1346"/><rect class="d m22" x="962" y="-9" width="18" height="10"/><rect class="d m19" x="1000" y="-17" width="31" height="19"/><rect class="s m3" x="1052" y="-17" width="23" height="19"/><rect class="d m20" x="1080" y="-10" width="72" height="10"/></g>
<g transform="translate(0,2843)"><line class="ln" x1="995" x2="1098"/><rect class="s m9" x="1026" y="-9" width="17" height="10"/><rect class="s m3" x="1053" y="-17" width="23" height="19"/></g>
<g transform="translate(0,2886)"><line class="ln" x1="931" x2="1084"/><rect class="s m9" x="1030" y="-11" width="17" height="11"/><rect class="s m3" x="1053" y="-9" width="24" height="10"/></g>
<g transform="translate(0,2928)"><line class="ln" x1="1004" x2="1105"/><rect class="s m9" x="1029" y="-9" width="18" height="10"/><rect class="s m3" x="1054" y="-17" width="24" height="19"/></g>
<g transform="translate(0,2970)"><line class="ln" x1="1004" x2="1099"/><rect class="s m3" x="1055" y="-17" width="23" height="19"/></g>
</g>

<g id="genes-rem">
<g transform="translate(0,1690)"><line class="in" x1="1600" x2="2042"/><path class="ex" d="M1600-7H1607v13H1600zM1617-7H1653v13H1617zM1686-7H1725v13H1686zM1767-7H1787v13H1767zM1794-7H1801v13H1794zM1847-7H1856v13H1847zM1871-7H1899v13H1871zM1978-7H1993v13H1978zM2002-7H2029v13H2002zM2034-7H2042v13H2034z"/><text class="ph" x="1608" y="-6">0</text><text class="ph" x="1654" y="-6">1</text><text class="ph" x="1726" y="-6">1</text><text class="ph" x="1788" y="-6">1</text><text class="ph" x="1802" y="-6">1</text><text class="ph" x="1857" y="-6">0</text><text class="ph" x="1900" y="-6">1</text><text class="ph" x="1994" y="-6">1</text><text class="ph" x="2030" y="-6">1</text></g>
<g transform="translate(0,1734)"><line class="in" x1="1600" x2="1827"/><path class="ex" d="M1600-7H1607v13H1600zM1617-7H1654v13H1617zM1709-7H1723v13H1709zM1731-7H1762v13H1731zM1778-7H1789v13H1778zM1798-7H1827v13H1798z"/><text class="ph" x="1608" y="-6">0</text><text class="ph" x="1655" y="-6">1</text><text class="ph" x="1724" y="-6">0</text><text class="ph" x="1763" y="-6">1</text><text class="ph" x="1790" y="-6">0</text></g>
<g transform="translate(0,1781)"><line class="in" x1="1600" x2="1732"/><path class="ex" d="M1600-7H1607v13H1600zM1615-7H1659v13H1615zM1676-7H1688v13H1676zM1695-7H1732v13H1695z"/><text class="ph" x="1608" y="-6">1</text><text class="ph" x="1660" y="-6">1</text><text class="ph" x="1689" y="-6">0</text></g>
<g transform="translate(0,1828)"><line class="in" x1="1600" x2="1744"/><path class="ex" d="M1600-7H1610v13H1600zM1622-7H1670v13H1622zM1682-7H1696v13H1682zM1711-7H1744v13H1711z"/><text class="ph" x="1611" y="-6">0</text><text class="ph" x="1671" y="-6">1</text><text class="ph" x="1697" y="-6">0</text></g>
<g transform="translate(0,1865)"><line class="in" x1="1600" x2="1810"/><path class="ex" d="M1600-7H1643v13H1600zM1655-7H1677v13H1655zM1777-7H1810v13H1777z"/><text class="ph" x="1644" y="-6">1</text><text class="ph" x="1678" y="-6">0</text></g>
<g transform="translate(0,1903)"><line class="in" x1="1600" x2="2019"/><path class="ex" d="M1600-7H1610v13H1600zM1626-7H1684v13H1626zM1728-7H1749v13H1728zM1776-7H1834v13H1776zM1877-7H1896v13H1877zM1987-7H2019v13H1987z"/><text class="ph" x="1611" y="-6">0</text><text class="ph" x="1685" y="-6">1</text><text class="ph" x="1750" y="-6">0</text><text class="ph" x="1835" y="-6">1</text><text class="ph" x="1897" y="-6">0</text></g>
<g transform="translate(0,1946)"><line class="in" x1="1600" x2="1847"/><path class="ex" d="M1600-7H1613v13H1600zM1666-7H1732v13H1666zM1781-7H1794v13H1781zM1813-7H1847v13H1813z"/><text class="ph" x="1614" y="-6">0</text><text class="ph" x="1733" y="-6">1</text><text class="ph" x="1795" y="-6">0</text></g>
<g transform="translate(0,1990)"><line class="in" x1="1600" x2="1921"/><path class="ex" d="M1600-7H1607v13H1600zM1763-7H1807v13H1763zM1832-7H1842v13H1832zM1852-7H1876v13H1852zM1887-7H1921v13H1887z"/><text class="ph" x="1608" y="-6">0</text><text class="ph" x="1808" y="-6">1</text><text class="ph" x="1843" y="-6">1</text><text class="ph" x="1877" y="-6">0</text></g>
<g transform="translate(0,2033)"><path class="ex" d="M1599-7H1638v13H1599z"/></g>
<g transform="translate(0,2082)"><line class="in" x1="1600" x2="2101"/><path class="ex" d="M1600-7H1676v13H1600zM1685-7H1692v13H1685zM1719-7H1723v13H1719zM1736-7H1743v13H1736zM1786-7H1797v13H1786zM1994-7H2022v13H1994zM2049-7H2064v13H2049zM2073-7H2101v13H2073z"/><text class="ph" x="1677" y="-6">1</text><text class="ph" x="1693" y="-6">0</text><text class="ph" x="1724" y="-6">2</text><text class="ph" x="1744" y="-6">0</text><text class="ph" x="1798" y="-6">0</text><text class="ph" x="2023" y="-6">1</text><text class="ph" x="2065" y="-6">0</text></g>
<g transform="translate(0,2123)"><line class="in" x1="1600" x2="1917"/><path class="ex" d="M1600-7H1616v13H1600zM1707-7H1787v13H1707zM1797-7H1817v13H1797zM1828-7H1874v13H1828zM1886-7H1917v13H1886z"/><text class="ph" x="1617" y="-6">0</text><text class="ph" x="1788" y="-6">1</text><text class="ph" x="1818" y="-6">0</text><text class="ph" x="1875" y="-6">0</text></g>
<g transform="translate(0,2163)"><line class="in" x1="1597" x2="1700"/><path class="ex" d="M1597-7H1626v13H1597zM1639-7H1646v13H1639zM1669-7H1700v13H1669z"/><text class="ph" x="1627" y="-6">1</text><text class="ph" x="1647" y="-6">1</text></g>
<g transform="translate(0,2205)"><line class="in" x1="1600" x2="2149"/><path class="ex" d="M1600-7H1611v13H1600zM1722-7H1784v13H1722zM1805-7H1825v13H1805zM1835-7H1863v13H1835zM2046-7H2101v13H2046zM2116-7H2149v13H2116z"/><text class="ph" x="1612" y="-6">0</text><text class="ph" x="1785" y="-6">1</text><text class="ph" x="1826" y="-6">0</text><text class="ph" x="1864" y="-6">0</text><text class="ph" x="2102" y="-6">1</text></g>
<g transform="translate(0,2244)"><line class="in" x1="1600" x2="1920"/><path class="ex" d="M1600-7H1607v13H1600zM1763-7H1805v13H1763zM1832-7H1841v13H1832zM1851-7H1875v13H1851zM1886-7H1920v13H1886z"/><text class="ph" x="1608" y="-6">0</text><text class="ph" x="1806" y="-6">1</text><text class="ph" x="1842" y="-6">1</text><text class="ph" x="1876" y="-6">0</text></g>
<g transform="translate(0,2280)"><line class="in" x1="1600" x2="1688"/><path class="ex" d="M1600-7H1607v13H1600zM1621-7H1636v13H1621zM1660-7H1688v13H1660z"/><text class="ph" x="1608" y="-6">2</text><text class="ph" x="1637" y="-6">0</text></g>
<g transform="translate(0,2331)"><line class="in" x1="1600" x2="1903"/><path class="ex" d="M1600-7H1662v13H1600zM1692-7H1711v13H1692zM1751-7H1776v13H1751zM1895-7H1903v13H1895z"/><text class="ph" x="1663" y="-6">1</text><text class="ph" x="1712" y="-6">0</text><text class="ph" x="1777" y="-6">0</text></g>
<g transform="translate(0,2376)"><line class="in" x1="1602" x2="1661"/><path class="ex" d="M1602-7H1619v13H1602zM1630-7H1661v13H1630z"/><text class="ph" x="1620" y="-6">0</text></g>
<g transform="translate(0,2416)"><line class="in" x1="1600" x2="1990"/><path class="ex" d="M1600-7H1614v13H1600zM1706-7H1712v13H1706zM1794-7H1813v13H1794zM1959-7H1990v13H1959z"/><text class="ph" x="1615" y="-6">0</text><text class="ph" x="1713" y="-6">1</text><text class="ph" x="1814" y="-6">0</text></g>
<g transform="translate(0,2454)"><line class="in" x1="1600" x2="1665"/><path class="ex" d="M1600-7H1615v13H1600zM1637-7H1665v13H1637z"/><text class="ph" x="1616" y="-6">0</text></g>
<g transform="translate(0,2499)"><line class="in" x1="1600" x2="1889"/><path class="ex" d="M1600-7H1604v13H1600zM1684-7H1692v13H1684zM1732-7H1738v13H1732zM1805-7H1824v13H1805zM1862-7H1889v13H1862z"/><text class="ph" x="1605" y="-6">2</text><text class="ph" x="1693" y="-6">1</text><text class="ph" x="1739" y="-6">1</text><text class="ph" x="1825" y="-6">1</text></g>
<g transform="translate(0,2544)"><line class="in" x1="1602" x2="1899"/><path class="ex" d="M1602-7H1607v13H1602zM1688-7H1710v13H1688zM1721-7H1742v13H1721zM1869-7H1899v13H1869z"/><text class="ph" x="1608" y="-6">1</text><text class="ph" x="1711" y="-6">1</text><text class="ph" x="1743" y="-6">0</text></g>
<g transform="translate(0,2585)"><line class="in" x1="1600" x2="1740"/><path class="ex" d="M1600-7H1609v13H1600zM1636-7H1642v13H1636zM1654-7H1681v13H1654zM1718-7H1740v13H1718z"/><text class="ph" x="1610" y="-6">0</text><text class="ph" x="1643" y="-6">0</text><text class="ph" x="1682" y="-6">0</text></g>
<g transform="translate(0,2629)"><line class="in" x1="1600" x2="1852"/><path class="ex" d="M1600-7H1625v13H1600zM1666-7H1678v13H1666zM1701-7H1706v13H1701zM1774-7H1793v13H1774zM1805-7H1821v13H1805zM1824-7H1852v13H1824z"/><text class="ph" x="1626" y="-6">1</text><text class="ph" x="1679" y="-6">0</text><text class="ph" x="1707" y="-6">1</text><text class="ph" x="1794" y="-6">0</text><text class="ph" x="1820" y="-6">1</text></g>
<g transform="translate(0,2672)"><line class="in" x1="1600" x2="1848"/><path class="ex" d="M1600-7H1618v13H1600zM1630-7H1641v13H1630zM1711-7H1714v13H1711zM1723-7H1750v13H1723zM1778-7H1807v13H1778zM1828-7H1848v13H1828z"/><text class="ph" x="1619" y="-6">0</text><text class="ph" x="1642" y="-6">0</text><text class="ph" x="1715" y="-6">2</text><text class="ph" x="1751" y="-6">0</text><text class="ph" x="1808" y="-6">0</text></g>
<g transform="translate(0,2711)"><line class="in" x1="1600" x2="1812"/><path class="ex" d="M1600-7H1610v13H1600zM1632-7H1641v13H1632zM1685-7H1689v13H1685zM1701-7H1725v13H1701zM1738-7H1765v13H1738zM1805-7H1812v13H1805z"/><text class="ph" x="1611" y="-6">0</text><text class="ph" x="1642" y="-6">0</text><text class="ph" x="1690" y="-6">2</text><text class="ph" x="1726" y="-6">0</text><text class="ph" x="1766" y="-6">0</text></g>
<g transform="translate(0,2750)"><line class="in" x1="1600" x2="2064"/><path class="ex" d="M1600-7H1614v13H1600zM1625-7H1636v13H1625zM1772-7H1777v13H1772zM1790-7H1811v13H1790zM1824-7H1851v13H1824zM1946-7H1956v13H1946zM1967-7H2064v13H1967z"/><text class="ph" x="1615" y="-6">0</text><text class="ph" x="1637" y="-6">0</text><text class="ph" x="1778" y="-6">2</text><text class="ph" x="1812" y="-6">0</text><text class="ph" x="1852" y="-6">0</text><text class="ph" x="1957" y="-6">1</text></g>
<g transform="translate(0,2792)"><line class="in" x1="1600" x2="2282"/><path class="ex" d="M1600-7H1621v13H1600zM1653-7H1662v13H1653zM1729-7H1732v13H1729zM1747-7H1768v13H1747zM1780-7H1807v13H1780zM2157-7H2282v13H2157z"/><text class="ph" x="1622" y="-6">0</text><text class="ph" x="1663" y="-6">0</text><text class="ph" x="1733" y="-6">2</text><text class="ph" x="1769" y="-6">0</text><text class="ph" x="1808" y="-6">0</text></g>
<path class="ex" d="M1599,2828H1638v13H1599zM1598,2867H1691v13H1598zM1600,2912H1642v13H1600zM1600,2951H1639v13H1600z"/>
</g>

<g id="axis-c">
<path class="ax" d="M1603,2998H2921M1604,2992V2998M1707,2992V2998M1809,2992V2998M1912,2992V2998M2015,2992V2998M2118,2992V2998M2220,2992V2998M2323,2992V2998M2426,2992V2998M2528,2992V2998M2631,2992V2998M2734,2992V2998M2836,2992V2998" stroke-width="1.5"/>
<text class="t" x="1563" y="3006" font-size="15">5′</text><text class="t" x="2936" y="3006" font-size="15">3′</text>
<g class="kb"><text x="1608" y="3011">0kb</text><text x="1710" y="3011">1kb</text><text x="1812" y="3011">2kb</text><text x="1915" y="3011">3kb</text><text x="2018" y="3011">4kb</text><text x="2121" y="3011">5kb</text><text x="2223" y="3011">6kb</text><text x="2326" y="3011">7kb</text><text x="2429" y="3011">8kb</text><text x="2531" y="3011">9kb</text><text x="2634" y="3011">10kb</text><text x="2737" y="3011">11kb</text><text x="2839" y="3011">12kb</text></g>
</g>

<g id="legend-motifs">
<rect x="906" y="2998" width="548" height="177" fill="#fff" stroke="#000" stroke-width="3"/>
<g transform="translate(0,3023)">
<rect class="s m1" x="921" y="-7" width="17" height="14"/><text class="lg" x="942" y="7">Motif 1</text>
<rect class="s m2" x="1026" y="-7" width="17" height="14"/><text class="lg" x="1048" y="7">Motif 2</text>
<rect class="s m3" x="1132" y="-7" width="17" height="14"/><text class="lg" x="1153" y="7">Motif 3</text>
<rect class="s m4" x="1236" y="-7" width="17" height="14"/><text class="lg" x="1258" y="7">Motif 4</text>
<rect class="s m5" x="1342" y="-7" width="17" height="14"/><text class="lg" x="1363" y="7">Motif 5</text>
</g>
<g transform="translate(0,3054)">
<rect class="s m6" x="921" y="-7" width="17" height="14"/><text class="lg" x="942" y="7">Motif 6</text>
<rect class="s m7" x="1026" y="-7" width="17" height="14"/><text class="lg" x="1048" y="7">Motif 7</text>
<rect class="s m8" x="1132" y="-7" width="17" height="14"/><text class="lg" x="1153" y="7">Motif 8</text>
<rect class="s m9" x="1236" y="-7" width="17" height="14"/><text class="lg" x="1258" y="7">Motif 9</text>
<rect class="s m10" x="1342" y="-7" width="17" height="14"/><text class="lg" x="1363" y="7">Motif 10</text>
</g>
<g transform="translate(0,3086)">
<rect class="s m11" x="921" y="-7" width="17" height="14"/><text class="lg" x="942" y="7">Motif 11</text>
<rect class="s m12" x="1026" y="-7" width="17" height="14"/><text class="lg" x="1048" y="7">Motif 12</text>
<rect class="s m13" x="1132" y="-7" width="17" height="14"/><text class="lg" x="1153" y="7">Motif 13</text>
<rect class="s m14" x="1236" y="-7" width="17" height="14"/><text class="lg" x="1258" y="7">Motif 14</text>
<rect class="s m15" x="1342" y="-7" width="17" height="14"/><text class="lg" x="1363" y="7">Motif 15</text>
</g>
<g transform="translate(0,3116)">
<rect class="d m16" x="921" y="-7" width="17" height="14"/><text class="lg" x="942" y="7">Motif 16</text>
<rect class="d m17" x="1026" y="-7" width="17" height="14"/><text class="lg" x="1048" y="7">Motif 17</text>
<rect class="d m18" x="1132" y="-7" width="17" height="14"/><text class="lg" x="1153" y="7">Motif 18</text>
<rect class="d m19" x="1236" y="-7" width="17" height="14"/><text class="lg" x="1258" y="7">Motif 19</text>
<rect class="d m20" x="1342" y="-7" width="17" height="14"/><text class="lg" x="1363" y="7">Motif 20</text>
</g>
<g transform="translate(0,3148)">
<rect class="d m21" x="921" y="-7" width="17" height="14"/><text class="lg" x="942" y="7">Motif 21</text>
<rect class="d m22" x="1026" y="-7" width="17" height="14"/><text class="lg" x="1048" y="7">Motif 22</text>
<rect class="d m23" x="1132" y="-7" width="17" height="14"/><text class="lg" x="1153" y="7">Motif 23</text>
<rect class="d m24" x="1236" y="-7" width="17" height="14"/><text class="lg" x="1258" y="7">Motif 24</text>
<rect class="d m25" x="1342" y="-7" width="17" height="14"/><text class="lg" x="1363" y="7">Motif 25</text>
</g>
</g>

<g id="legend-genes">
<rect x="1812" y="3047" width="614" height="110" fill="#fff" stroke="#000" stroke-width="3"/>
<text class="ser" x="1829" y="3093" font-size="27" font-weight="bold">Legend:</text>
<rect class="ex" x="1829" y="3118" width="41" height="11"/>
<text class="mono" x="1888" y="3128">exon</text>
<line x1="1987" y1="3117" x2="2032" y2="3117" stroke="#000" stroke-width="2.5"/>
<text class="mono" x="2047" y="3128">intron</text>
<text class="mono" x="2173" y="3131">0 1 2: intron phase</text>
</g>
</svg>
